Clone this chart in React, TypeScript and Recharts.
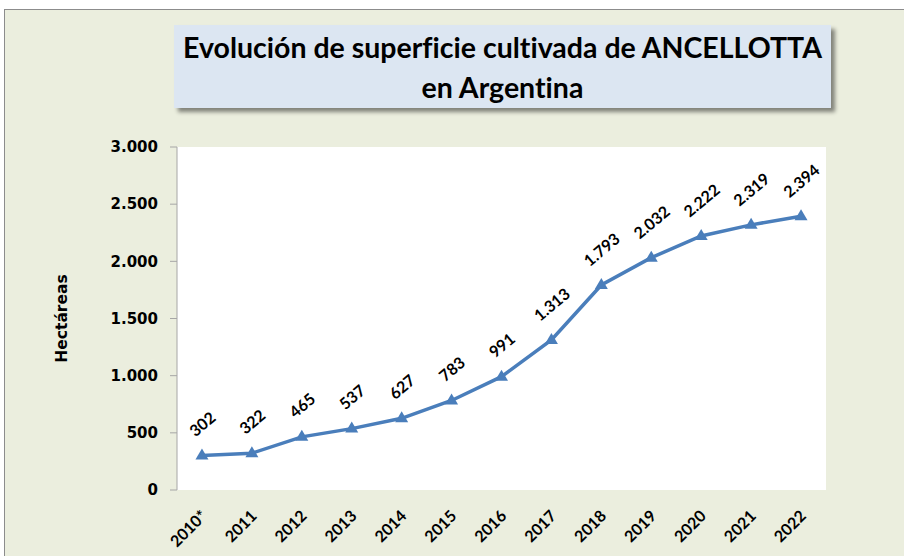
import React from 'react';
import { LineChart, Line, XAxis, YAxis, CartesianGrid, LabelList, Label } from 'recharts';

const years = ['2010*', '2011', '2012', '2013', '2014', '2015', '2016', '2017', '2018', '2019', '2020', '2021', '2022'];
const hectareas = [302, 322, 465, 537, 627, 783, 991, 1313, 1793, 2032, 2222, 2319, 2394];
const yTicks = [0, 500, 1000, 1500, 2000, 2500, 3000];

const data = years.map((year, i) => ({ idx: i, year, hectareas: hectareas[i] }));
const centers = years.map((_, i) => i);
const boundaries = years.map((_, i) => i - 0.5).concat(years.length - 0.5);

const LINE = '#4A7EBB';
const AXIS = '#A6A6A6';
const BODY_FONT = 'Lato, "Open Sans", sans-serif';

const fmt = (n: number) => String(n).replace(/\B(?=(\d{3})+(?!\d))/g, '.');

const TriangleDot = (props: any) => {
    const { cx, cy } = props;
    if (cx == null || cy == null) return null;
    return <polygon points={`${cx},${cy - 7} ${cx + 6.5},${cy + 4} ${cx - 6.5},${cy + 4}`} fill={LINE} />;
};

const YearTick = (props: any) => {
    const { x, y, payload } = props;
    const ax = x + 6;
    const ay = y + 19;
    return (
        <text x={ax} y={ay} transform={`rotate(-45, ${ax}, ${ay})`} textAnchor="end"
            fontFamily={BODY_FONT} fontWeight={700} fontSize={16} fill="#000">
            {years[payload.value]}
        </text>
    );
};

const ValueLabel = (props: any) => {
    const { x, y, value } = props;
    const s = fmt(value);
    const ly = y - (26 + 2 * s.length);
    return (
        <text x={x} y={ly} transform={`rotate(-40, ${x}, ${ly})`} textAnchor="middle" dominantBaseline="central"
            fontFamily={BODY_FONT} fontWeight={700} fontSize={16} fill="#000">
            {s}
        </text>
    );
};

export default function App() {
    return (
        <div style={{ position: 'absolute', left: 0, top: 0, width: 904, height: 556, overflow: 'hidden', background: '#fff' }}>
            <div style={{ position: 'absolute', left: 4, top: 9, width: 920, height: 560, background: '#EBEEDE', borderTop: '1.5px solid #8c8c8c', borderLeft: '1.5px solid #8c8c8c' }} />

            {/* title box */}
            <div style={{
                position: 'absolute', left: 174, top: 25, width: 657, height: 83, background: '#DCE6F2',
                boxShadow: '4px 4px 4px rgba(0,0,0,0.45)', textAlign: 'center', fontFamily: BODY_FONT,
                fontWeight: 700, fontSize: 28.5, color: '#000', lineHeight: '40px', paddingTop: 2, boxSizing: 'border-box',
                fontVariantLigatures: 'none',
            }}>
                <div>Evolución de superficie cultivada de ANCELLOTTA</div>
                <div>en Argentina</div>
            </div>

            <div style={{ position: 'absolute', left: 0, top: 0 }}>
                <LineChart width={904} height={556} data={data} margin={{ top: 147, right: 78, bottom: 0, left: 0 }}>
                    <CartesianGrid xAxisId="grid" fill="#fff" horizontal={false} vertical={false} stroke="none" />
                    <XAxis xAxisId="grid" type="number" dataKey="idx" domain={[-0.5, years.length - 0.5]} allowDataOverflow
                        ticks={boundaries} interval={0} height={0} mirror tickSize={4} tickFormatter={() => ''}
                        stroke={AXIS} />
                    <XAxis xAxisId="labels" type="number" dataKey="idx" domain={[-0.5, years.length - 0.5]} allowDataOverflow
                        ticks={centers} interval={0} height={66} axisLine={false} tickLine={false} tick={<YearTick />} />
                    <YAxis domain={[0, 3000]} ticks={yTicks} interval={0} width={177} tickSize={7} tickMargin={12}
                        stroke={AXIS} tickFormatter={fmt}
                        tick={{ fontFamily: 'DejaVu Sans', fontWeight: 700, fontSize: 15, fill: '#000' }}>
                        <Label value="Hectáreas" angle={-90} position="center" dx={-27}
                            style={{ fontFamily: 'DejaVu Sans', fontWeight: 700, fontSize: 15.5, fill: '#000' }} />
                    </YAxis>
                    <Line xAxisId="grid" type="linear" dataKey="hectareas" stroke={LINE} strokeWidth={3.5}
                        dot={<TriangleDot />} activeDot={false} isAnimationActive={false}>
                        <LabelList dataKey="hectareas" content={<ValueLabel />} />
                    </Line>
                </LineChart>
            </div>
        </div>
    );
}
